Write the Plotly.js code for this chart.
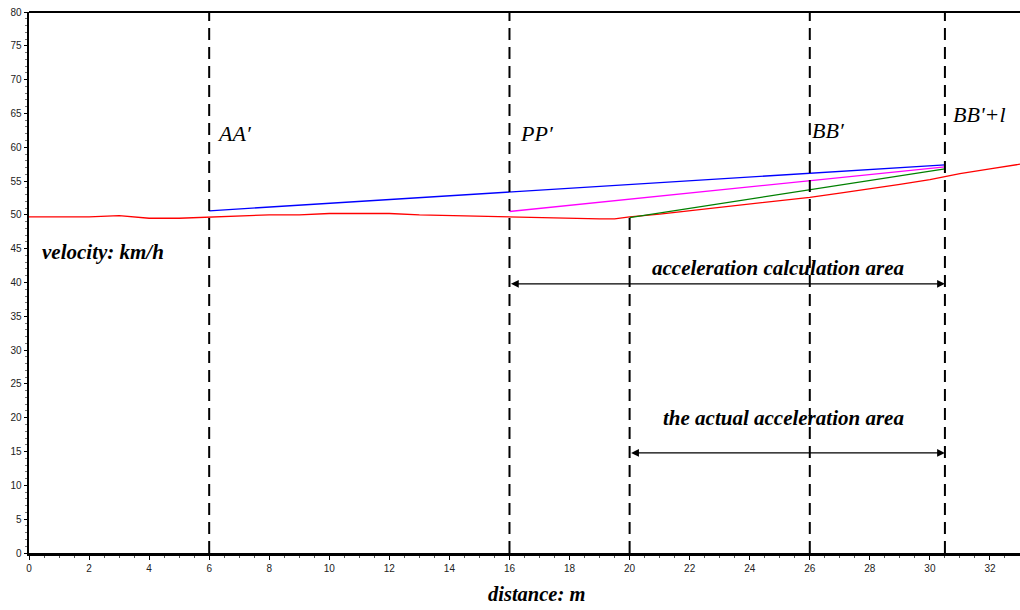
<!DOCTYPE html>
<html>
<head>
<meta charset="utf-8">
<script src="https://cdn.plot.ly/plotly-3.0.1.min.js"></script>
<style>html,body{margin:0;padding:0;background:#fff;}#chart{width:1020px;height:610px;}</style>
</head>
<body>
<div id="chart"></div>
<script>
// Measured speed (red)
const redX = [0, 1, 2, 3, 4, 5, 6, 7, 8, 9, 10, 11, 12, 13, 14, 15, 16, 17, 18, 19, 19.5, 20, 21, 22, 23, 24, 25, 26, 27, 28, 29, 30, 30.5, 31, 32, 33];
const redY = [49.7, 49.7, 49.7, 49.9, 49.5, 49.5, 49.7, 49.8, 50.0, 50.0, 50.2, 50.2, 50.2, 50.0, 49.9, 49.8, 49.6, 49.5, 49.4, 49.4, 49.4, 49.7, 50.1, 50.6, 51.0, 51.5, 52.1, 52.6, 53.2, 53.8, 54.5, 55.2, 55.7, 56.1, 56.8, 57.5];
// Straight reference lines
const blueX = [6, 30.5];    const blueY = [50.6, 57.4];
const magentaX = [16, 30.5]; const magentaY = [50.5, 57.1];
const greenX = [20, 30.5];  const greenY = [49.6, 56.8];
// Vertical section markers
const sectionX = [6, 16, 26, 30.5];
const sectionLabels = ["AA′", "PP′", "BB′", "BB'+l"];
const sectionLabelX = [6.2, 16.3, 26.0, 30.7];
const sectionLabelY = [62.0, 62.0, 62.5, 64.8];
const actualStartX = 20; const actualStartY = 50.0;
// Ranges
const calcArea = [16, 30.5]; const calcArrowY = 39.8; const calcTextX = 24.95; const calcTextY = 42.2;
const actualArea = [20, 30.5]; const actualArrowY = 14.8; const actualTextX = 25.13; const actualTextY = 19.9;
const xTicks = [0, 2, 4, 6, 8, 10, 12, 14, 16, 18, 20, 22, 24, 26, 28, 30, 32];
const yTicks = [0, 5, 10, 15, 20, 25, 30, 35, 40, 45, 50, 55, 60, 65, 70, 75, 80];

const serif = "Liberation Serif, Times New Roman, serif";
const tickFont = {family: "Liberation Sans Narrow, Liberation Sans, Arial, sans-serif", size: 10, color: "#222"};

const traces = [
  {x: redX, y: redY, mode: "lines", line: {color: "#ff0000", width: 1.3}, hoverinfo: "skip"},
  {x: blueX, y: blueY, mode: "lines", line: {color: "#0000ff", width: 1.3}, hoverinfo: "skip"},
  {x: magentaX, y: magentaY, mode: "lines", line: {color: "#ff00ff", width: 1.3}, hoverinfo: "skip"},
  {x: greenX, y: greenY, mode: "lines", line: {color: "#008000", width: 1.3}, hoverinfo: "skip"}
];

const shapes = sectionX.map(x => ({type: "line", xref: "x", yref: "y", x0: x, x1: x, y0: 0, y1: 80,
  line: {color: "#000", width: 2, dash: "12px,7px"}}));
shapes.push({type: "line", xref: "x", yref: "y", x0: actualStartX, x1: actualStartX, y0: 0, y1: actualStartY,
  line: {color: "#000", width: 2, dash: "12px,7px"}});
shapes.push({type: "line", xref: "paper", yref: "paper", x0: 0, x1: 1, y0: 1, y1: 1, line: {color: "#000", width: 2}});

const annotations = sectionLabels.map((t, i) => ({x: sectionLabelX[i], y: sectionLabelY[i], xref: "x", yref: "y",
  text: t, showarrow: false, xanchor: "left", yanchor: "middle",
  font: {family: serif, size: 22, color: "#000", style: "italic"}}));
annotations.push({x: 0.37, y: 44.5, xref: "x", yref: "y", text: "<b><i>velocity: km/h</i></b>", showarrow: false,
  xanchor: "left", yanchor: "middle", font: {family: serif, size: 21, color: "#000"}});
annotations.push({x: calcTextX, y: calcTextY, xref: "x", yref: "y",
  text: "<b><i>acceleration calculation area</i></b>", showarrow: false, xanchor: "center", yanchor: "middle",
  font: {family: serif, size: 21, color: "#000"}});
annotations.push({x: actualTextX, y: actualTextY, xref: "x", yref: "y",
  text: "<b><i>the actual acceleration area</i></b>", showarrow: false, xanchor: "center", yanchor: "middle",
  font: {family: serif, size: 21, color: "#000"}});
annotations.push({x: 16.9, y: 0, xref: "x", yref: "paper", yanchor: "top", yshift: -28,
  text: "<b><i>distance: m</i></b>", showarrow: false, xanchor: "center",
  font: {family: serif, size: 20.5, color: "#000"}});
annotations.push({x: calcArea[1], y: calcArrowY, ax: calcArea[0], ay: calcArrowY, xref: "x", yref: "y", axref: "x", ayref: "y",
  text: "", showarrow: true, arrowhead: 2, startarrowhead: 2, arrowside: "end+start", arrowsize: 1.2, arrowwidth: 1.3, arrowcolor: "#000"});
annotations.push({x: actualArea[1], y: actualArrowY, ax: actualArea[0], ay: actualArrowY, xref: "x", yref: "y", axref: "x", ayref: "y",
  text: "", showarrow: true, arrowhead: 2, startarrowhead: 2, arrowside: "end+start", arrowsize: 1.2, arrowwidth: 1.3, arrowcolor: "#000"});

const layout = {
  width: 1020, height: 610,
  margin: {l: 29, r: 0, t: 12, b: 57},
  paper_bgcolor: "#fff", plot_bgcolor: "#fff",
  showlegend: false,
  xaxis: {range: [0, 33], tickvals: xTicks, ticktext: xTicks.map(String), showgrid: false, zeroline: false,
    showline: true, linecolor: "#000", linewidth: 2.5, mirror: false, ticks: "outside", ticklen: 4, tickcolor: "#000",
    tickfont: tickFont, minor: {dtick: 0.5, ticks: "outside", ticklen: 2, tickcolor: "#555"}},
  yaxis: {range: [0, 80], tickvals: yTicks, ticktext: yTicks.map(String), showgrid: false, zeroline: false,
    showline: true, linecolor: "#000", linewidth: 2.5, ticks: "outside", ticklen: 3, tickcolor: "#000",
    tickfont: tickFont, minor: {dtick: 1, ticks: "outside", ticklen: 2, tickcolor: "#777"}},
  shapes: shapes,
  annotations: annotations
};

Plotly.newPlot("chart", traces, layout, {displayModeBar: false, staticPlot: true});
</script>
</body>
</html>
